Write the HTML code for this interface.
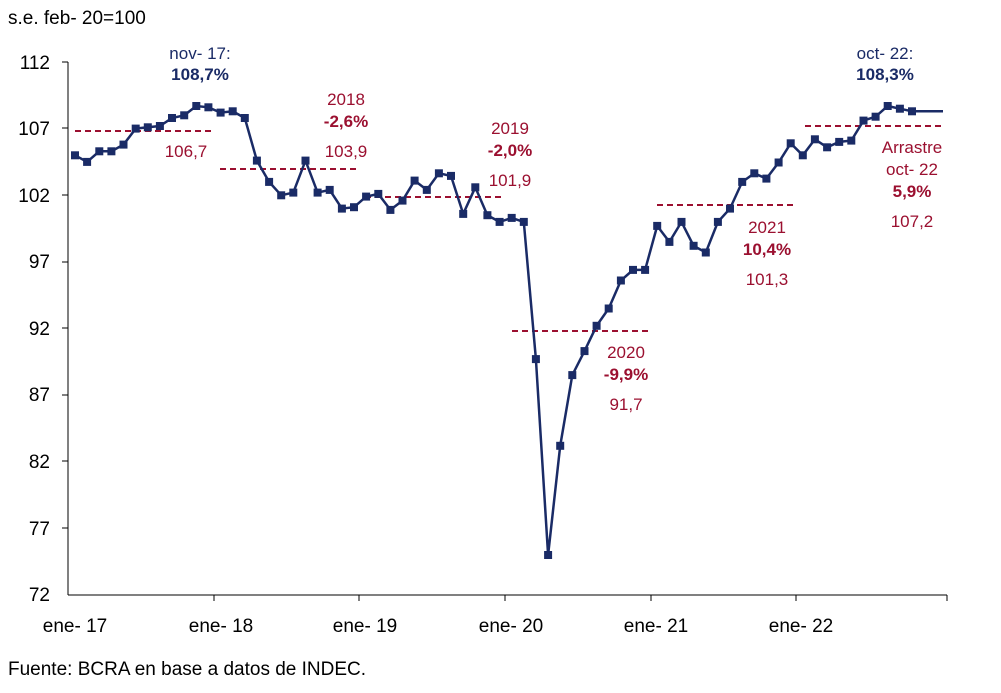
<!DOCTYPE html>
<html><head><meta charset="utf-8"><style>
body{margin:0;background:#fff;}
svg{display:block;font-family:"Liberation Sans",sans-serif;}
</style></head><body>
<svg width="1001" height="693" viewBox="0 0 1001 693">
<defs>
<marker id="sq" markerUnits="userSpaceOnUse" markerWidth="9" markerHeight="9" refX="4.5" refY="4.5" viewBox="0 0 9 9">
<rect x="0.5" y="0.5" width="8" height="8" fill="#1a2b66"/>
</marker>
</defs>
<text x="8" y="24" font-size="19" fill="#000">s.e. feb- 20=100</text>
<g font-size="19" fill="#000" text-anchor="end">
<text x="50" y="69">112</text><text x="50" y="135">107</text><text x="50" y="202">102</text>
<text x="50" y="268">97</text><text x="50" y="335">92</text><text x="50" y="401">87</text>
<text x="50" y="468">82</text><text x="50" y="535">77</text><text x="50" y="601">72</text>
</g>
<g stroke="#000" stroke-width="1">
<line x1="68" y1="62" x2="68" y2="595"/><line x1="68" y1="595" x2="947" y2="595"/>
<line x1="62" y1="62" x2="68" y2="62"/><line x1="62" y1="128" x2="68" y2="128"/><line x1="62" y1="195" x2="68" y2="195"/>
<line x1="62" y1="262" x2="68" y2="262"/><line x1="62" y1="328" x2="68" y2="328"/><line x1="62" y1="395" x2="68" y2="395"/>
<line x1="62" y1="461" x2="68" y2="461"/><line x1="62" y1="528" x2="68" y2="528"/>
<line x1="214" y1="595" x2="214" y2="601"/><line x1="359" y1="595" x2="359" y2="601"/><line x1="505" y1="595" x2="505" y2="601"/>
<line x1="651" y1="595" x2="651" y2="601"/><line x1="796" y1="595" x2="796" y2="601"/><line x1="947" y1="595" x2="947" y2="601"/>
</g>
<g font-size="19" fill="#000" text-anchor="middle">
<text x="75" y="632">ene- 17</text><text x="221" y="632">ene- 18</text><text x="365" y="632">ene- 19</text>
<text x="511" y="632">ene- 20</text><text x="656" y="632">ene- 21</text><text x="801" y="632">ene- 22</text>
</g>
<text x="8" y="675" font-size="19" fill="#000">Fuente: BCRA en base a datos de INDEC.</text>
<g stroke="#9b1030" stroke-width="2" stroke-dasharray="6,4">
<line x1="75" y1="131" x2="211" y2="131"/><line x1="220" y1="169" x2="357" y2="169"/>
<line x1="365" y1="197" x2="502" y2="197"/><line x1="512" y1="331" x2="650" y2="331"/>
<line x1="657" y1="205" x2="795" y2="205"/><line x1="805" y1="126" x2="943" y2="126"/>
</g>
<line x1="912" y1="111.3" x2="943" y2="111.3" stroke="#1a2b66" stroke-width="2.5"/>
<polyline fill="none" stroke="#1a2b66" stroke-width="2.5" marker-start="url(#sq)" marker-mid="url(#sq)" marker-end="url(#sq)" points="75,155.3 87.1,161.9 99.3,151.3 111.4,151.3 123.5,144.6 135.7,128.6 147.8,127.3 159.9,126 172,118 184.2,115.3 196.3,106 208.4,107.3 220.6,112.6 232.7,111.3 244.8,118 256.9,160.6 269.1,181.9 281.2,195.3 293.3,192.6 305.5,160.6 317.6,192.6 329.7,189.9 341.9,208.6 354,207.2 366.1,196.6 378.3,193.9 390.4,209.9 402.5,200.6 414.6,180.6 426.8,189.9 438.9,173.3 451,175.9 463.2,213.9 475.3,187.3 487.4,215.2 499.6,221.9 511.7,217.9 523.8,221.9 535.9,359.1 548.1,555 560.2,445.8 572.3,375.1 584.5,351.1 596.6,325.8 608.7,308.5 620.9,280.5 633,269.9 645.1,269.9 657.2,225.9 669.4,241.9 681.5,221.9 693.6,245.8 705.8,252.5 717.9,221.9 730,208.6 742.2,181.9 754.3,173.3 766.4,178.6 778.6,162.5 790.7,143.3 802.8,155.3 814.9,139.3 827.1,147.3 839.2,141.9 851.3,140.6 863.5,120.6 875.6,116.7 887.7,106 899.9,108.7 912,111.3"/>
<g font-size="17" text-anchor="middle">
<text x="200" y="59" fill="#1a2b66">nov- 17:</text><text x="200" y="80" fill="#1a2b66" font-weight="bold">108,7%</text>
<text x="186" y="157" fill="#9b1030">106,7</text>
<text x="346" y="105" fill="#9b1030">2018</text><text x="346" y="127" fill="#9b1030" font-weight="bold">-2,6%</text><text x="346" y="157" fill="#9b1030">103,9</text>
<text x="510" y="134" fill="#9b1030">2019</text><text x="510" y="156" fill="#9b1030" font-weight="bold">-2,0%</text><text x="510" y="186" fill="#9b1030">101,9</text>
<text x="626" y="358" fill="#9b1030">2020</text><text x="626" y="380" fill="#9b1030" font-weight="bold">-9,9%</text><text x="626" y="410" fill="#9b1030">91,7</text>
<text x="767" y="233" fill="#9b1030">2021</text><text x="767" y="255" fill="#9b1030" font-weight="bold">10,4%</text><text x="767" y="285" fill="#9b1030">101,3</text>
<text x="885" y="59" fill="#1a2b66">oct- 22:</text><text x="885" y="80" fill="#1a2b66" font-weight="bold">108,3%</text>
<text x="912" y="153" fill="#9b1030">Arrastre</text><text x="912" y="175" fill="#9b1030">oct- 22</text><text x="912" y="197" fill="#9b1030" font-weight="bold">5,9%</text><text x="912" y="227" fill="#9b1030">107,2</text>
</g>
</svg>
</body></html>
